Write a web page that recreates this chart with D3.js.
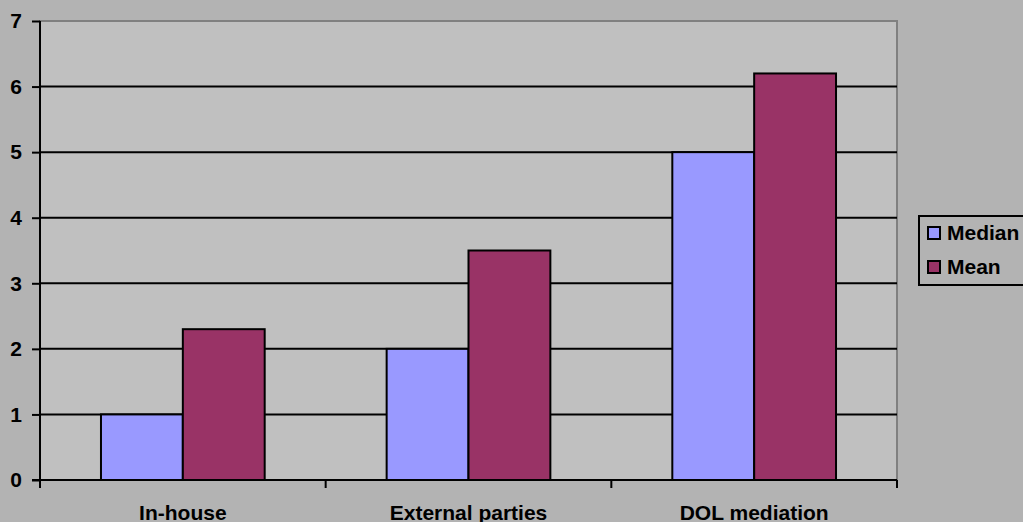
<!DOCTYPE html>
<html lang="en">
<head>
<meta charset="utf-8">
<style>
  body { margin: 0; background: #b3b3b3; }
  text { font-family: "Liberation Sans", Arial, sans-serif; font-weight: bold; }
</style>
</head>
<body>
<script src="https://d3js.org/d3.v7.min.js"></script>
<script>
  const categories = ["In-house", "External parties", "DOL mediation"];
  const seriesNames = ["Median", "Mean"];
  const medianValues = [1, 2, 5];
  const meanValues = [2.3, 3.5, 6.2];
  const yTicks = [0, 1, 2, 3, 4, 5, 6, 7];
  const colors = ["#9999ff", "#993366"];

  const width = 1023, height = 522;
  const plotLeft = 40, plotRight = 897, plotTop = 21, plotBottom = 480;
  const fontSize = 21;

  const svg = d3.select("body")
    .append("svg")
    .attr("width", width)
    .attr("height", height)
    .style("display", "block");

  svg.append("rect")
    .attr("width", width).attr("height", height)
    .attr("fill", "#b3b3b3");

  const x = d3.scaleBand()
    .domain(categories)
    .range([plotLeft, plotRight])
    .paddingInner(0)
    .paddingOuter(0);

  // two bars of ~82px inside a ~286px band
  const xInner = d3.scaleBand()
    .domain(seriesNames)
    .range([0, x.bandwidth()])
    .paddingOuter(0.745)
    .paddingInner(0);

  const y = d3.scaleLinear()
    .domain([0, 7])
    .range([plotBottom, plotTop]);

  // plot area
  svg.append("rect")
    .attr("x", plotLeft).attr("y", plotTop)
    .attr("width", plotRight - plotLeft).attr("height", plotBottom - plotTop)
    .attr("fill", "#c0c0c0")
    .attr("stroke", "#808080")
    .attr("stroke-width", 2);

  // gridlines
  svg.append("g")
    .selectAll("line")
    .data(yTicks.filter(d => d > 0 && d < 7))
    .join("line")
      .attr("x1", plotLeft).attr("x2", plotRight)
      .attr("y1", d => y(d)).attr("y2", d => y(d))
      .attr("stroke", "#000")
      .attr("stroke-width", 2);

  // bars
  const rows = categories.map((c, i) => ({ cat: c, vals: [medianValues[i], meanValues[i]] }));
  svg.append("g")
    .selectAll("g")
    .data(rows)
    .join("g")
      .attr("transform", d => `translate(${x(d.cat)},0)`)
    .selectAll("rect")
    .data(d => d.vals.map((v, j) => ({ s: seriesNames[j], v, j })))
    .join("rect")
      .attr("x", d => xInner(d.s))
      .attr("width", xInner.bandwidth())
      .attr("y", d => y(d.v))
      .attr("height", d => y(0) - y(d.v))
      .attr("fill", d => colors[d.j])
      .attr("stroke", "#000")
      .attr("stroke-width", 2);

  // y axis
  const yAxis = svg.append("g")
    .attr("transform", `translate(${plotLeft},0)`)
    .call(d3.axisLeft(y).tickValues(yTicks).tickFormat(d3.format("d")).tickSize(8).tickPadding(10));
  yAxis.select(".domain").attr("stroke", "#000").attr("stroke-width", 2)
    .attr("d", `M0,${plotBottom}V${plotTop}`);
  yAxis.selectAll(".tick line").attr("stroke", "#000").attr("stroke-width", 2);
  yAxis.selectAll(".tick text")
    .attr("font-size", fontSize)
    .attr("fill", "#000")
    .style("font-family", "'Liberation Sans', Arial, sans-serif")
    .style("font-weight", "bold");

  // x axis
  const xAxis = svg.append("g")
    .attr("transform", `translate(0,${plotBottom})`)
    .call(d3.axisBottom(x).tickSize(0).tickPadding(25));
  xAxis.select(".domain").attr("stroke", "#000").attr("stroke-width", 2)
    .attr("d", `M${plotLeft - 8},0H${plotRight}`);
  xAxis.selectAll(".tick text")
    .attr("font-size", fontSize)
    .attr("fill", "#000")
    .attr("dy", "0.71em")
    .style("font-family", "'Liberation Sans', Arial, sans-serif")
    .style("font-weight", "bold");
  xAxis.append("g")
    .selectAll("line")
    .data(categories.map(c => x(c)).concat([plotRight]))
    .join("line")
      .attr("x1", d => d).attr("x2", d => d)
      .attr("y1", 0).attr("y2", 8)
      .attr("stroke", "#000")
      .attr("stroke-width", 2);

  // legend
  const legend = svg.append("g").attr("transform", "translate(919,216)");
  legend.append("rect")
    .attr("x", 0).attr("y", 0)
    .attr("width", 115).attr("height", 69)
    .attr("fill", "#b3b3b3")
    .attr("stroke", "#000")
    .attr("stroke-width", 2);
  const items = legend.selectAll("g.item")
    .data(seriesNames)
    .join("g")
      .attr("class", "item")
      .attr("transform", (d, i) => `translate(9,${11 + i * 34})`);
  items.append("rect")
    .attr("width", 12).attr("height", 12)
    .attr("fill", (d, i) => colors[i])
    .attr("stroke", "#000")
    .attr("stroke-width", 2);
  items.append("text")
    .attr("x", 19).attr("y", 13)
    .attr("font-size", fontSize)
    .attr("fill", "#000")
    .text(d => d);
</script>
</body>
</html>
